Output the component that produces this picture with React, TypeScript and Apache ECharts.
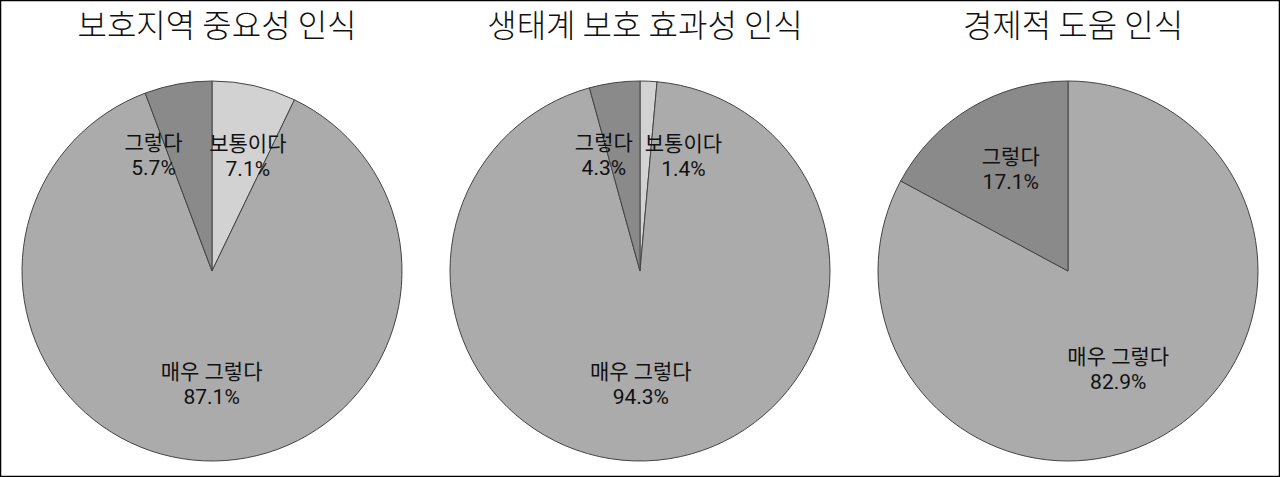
import { useEffect, useRef } from "react";
import * as echarts from "echarts";

// 응답자 70명 기준 응답 수
const titles = ["보호지역 중요성 인식", "생태계 보호 효과성 인식", "경제적 도움 인식"];
const importanceNames = ["보통이다", "매우 그렇다", "그렇다"];
const importanceCounts = [5, 61, 4];
const effectNames = ["보통이다", "매우 그렇다", "그렇다"];
const effectCounts = [1, 66, 3];
const economyNames = ["매우 그렇다", "그렇다"];
const economyCounts = [58, 12];

const colors = {
  보통이다: "#d2d2d2",
  "매우 그렇다": "#ababab",
  그렇다: "#8a8a8a",
};

// 라벨 위치 보정 (엑셀 배치 흉내)
const labelOffsets = [
  [[14, -19], [4, 16], [-41, -19]],
  [[39, -17], [-8, 16], [-23, -18]],
  [[0, 14], [-7, -17]],
];

const centersX = [212, 640, 1068];

const App = () => {
  const chartRef = useRef(null);

  useEffect(() => {
    document.body.style.margin = "0";
    const chart = echarts.init(chartRef.current, null, { renderer: "svg" });

    const groups = [
      [importanceNames, importanceCounts],
      [effectNames, effectCounts],
      [economyNames, economyCounts],
    ];

    const font = "'Noto Sans CJK KR', 'Noto Sans', sans-serif";
    const labelFont = "Roboto, 'Noto Sans CJK KR', sans-serif";

    const option: any = {
      animation: false,
      backgroundColor: "#fff",
      textStyle: { fontFamily: font },
      title: titles.map((t, i) => ({
        text: t,
        left: centersX[i],
        top: 2,
        textAlign: "center",
        textStyle: {
          fontFamily: font,
          fontSize: 32,
          fontWeight: 300,
          color: "#111",
        },
      })),
      graphic: [
        {
          type: "rect",
          shape: { x: 0.5, y: 0.5, width: 1279, height: 476 },
          style: { fill: "none", stroke: "#000", lineWidth: 1.5 },
          silent: true,
        },
      ],
      series: groups.map(([names, counts], i) => {
        const total = (counts as number[]).reduce((a, b) => a + b, 0);
        return {
          type: "pie",
          center: [centersX[i], 271],
          radius: 190,
          startAngle: 90,
          clockwise: true,
          label: {
            show: true,
            position: "inside",
            formatter: (p: any) =>
              p.name + "\n" + ((p.value / total) * 100).toFixed(1) + "%",
            fontFamily: labelFont,
            fontSize: 21,
            lineHeight: 25,
            color: "#111",
            align: "center",
          },
          labelLine: { show: false },
          emphasis: { disabled: true },
          itemStyle: { borderColor: "#444", borderWidth: 1 },
          data: (names as string[]).map((n, j) => ({
            name: n,
            value: (counts as number[])[j],
            itemStyle: { color: colors[n] },
            label: { offset: labelOffsets[i][j] },
          })),
        };
      }),
    };

    chart.setOption(option);
    return () => {
      chart.dispose();
    };
  }, []);

  return <div ref={chartRef} style={{ width: "1280px", height: "477px" }} />;
};

export default App;
